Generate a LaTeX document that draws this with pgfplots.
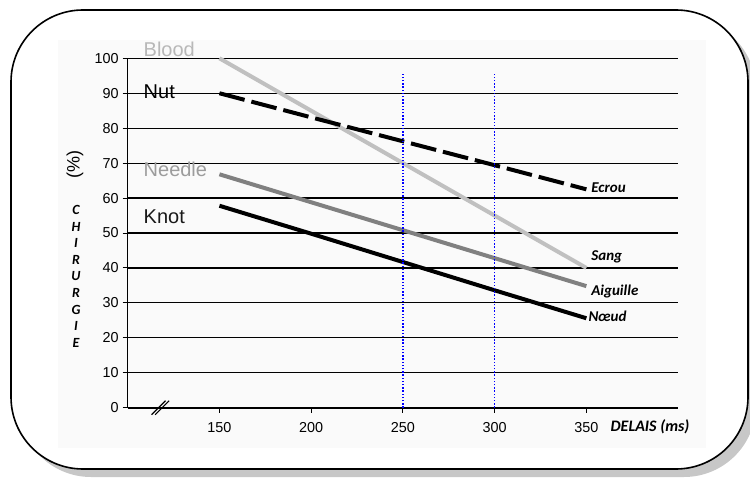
\documentclass[border=0pt]{standalone}
\usepackage{pgfplots}
\pgfplotsset{compat=1.18}
\usepackage{fontspec}
\setmainfont{Liberation Sans}
\newfontfamily\calib{Carlito}
\definecolor{bloodc}{HTML}{C0C0C0}
\definecolor{needlec}{HTML}{808080}
\definecolor{bloodlab}{HTML}{B8B8B8}
\definecolor{needlelab}{HTML}{9C9C9C}
\begin{document}
\begin{tikzpicture}
\useasboundingbox (0,0) rectangle (375pt,238.5pt);
\fill[black!22,rounded corners=36pt] (9.5pt,0pt) rectangle (378pt,229.5pt);
\filldraw[fill=white,draw=black,line width=0.8pt,rounded corners=36pt] (5.5pt,4pt) rectangle (374pt,233.5pt);
\fill[black!2] (29pt,14.5pt) rectangle (353pt,218.5pt);
\begin{axis}[
  at={(63.85pt,34.65pt)}, anchor=south west,
  scale only axis, width=275.2pt, height=174.7pt,
  xmin=100, xmax=400, ymin=0, ymax=100,
  axis lines*=left,
  axis line style={black, line width=0.7pt},
  x axis line style={line width=1.1pt},
  xtick={150,200,250,300,350},
  ytick={0,10,...,100},
  ymajorgrids,
  grid style={black, line width=0.6pt},
  tick align=outside,
  major tick length=2.5pt,
  tick style={black, line width=0.5pt},
  ticklabel style={font=\fontsize{7.2}{8}\selectfont},
  /pgf/number format/assume math mode=true,
  xticklabel style={yshift=-1.5pt},
  yticklabel style={xshift=1.5pt},
  clip=false,
]
\addplot[bloodc, line width=2pt] coordinates {(150,100) (200,85) (250,70) (300,55) (350,40)};
\addplot[black, line width=2pt, dash pattern=on 13pt off 3.5pt] coordinates {(150,90) (200,83.1) (250,76.25) (300,69.4) (350,62.5)};
\addplot[needlec, line width=2pt] coordinates {(150,66.8) (200,58.8) (250,50.8) (300,42.8) (350,34.8)};
\addplot[black, line width=2pt] coordinates {(150,57.8) (200,49.8) (250,41.7) (300,33.6) (350,25.6)};
\addplot[blue, line width=0.7pt, dash pattern=on 0.7pt off 0.9pt] coordinates {(250,0) (250,96)};
\addplot[blue, line width=0.7pt, dash pattern=on 0.7pt off 0.9pt] coordinates {(300,0) (300,96)};

\node[anchor=base west, text=bloodlab, inner sep=0, font=\fontsize{10}{12}\selectfont] at (axis cs:108.5,100.4) {Blood};
\node[anchor=base west, text=black, inner sep=0, font=\fontsize{10}{12}\selectfont] at (axis cs:108.5,88.5) {Nut};
\node[anchor=base west, text=needlelab, inner sep=0, font=\fontsize{10}{12}\selectfont] at (axis cs:108.5,66.1) {Needle};
\node[anchor=base west, text=black!90, inner sep=0, font=\fontsize{10}{12}\selectfont] at (axis cs:108.5,52.6) {Knot};

\node[anchor=west, inner sep=0, font=\calib\bfseries\itshape\fontsize{7.5}{9}\selectfont] at (axis cs:352.5,63) {Ecrou};
\node[anchor=west, inner sep=0, font=\calib\bfseries\itshape\fontsize{7.5}{9}\selectfont] at (axis cs:352.5,43.1) {Sang};
\node[anchor=west, inner sep=0, font=\calib\bfseries\itshape\fontsize{7.5}{9}\selectfont] at (axis cs:352.5,33.4) {Aiguille};
\node[anchor=west, inner sep=0, font=\calib\bfseries\itshape\fontsize{7.5}{9}\selectfont] at (axis cs:351,26.2) {Nœud};

\node[anchor=west, inner sep=0, font=\calib\bfseries\itshape\fontsize{8}{9}\selectfont] at (axis cs:363,-5.5) {DELAIS (ms)};
\node[rotate=90, inner sep=0, font=\fontsize{9}{10}\selectfont] at (axis cs:71.3,69.5) {(\%)};
\node[align=center, inner sep=0, font=\calib\bfseries\itshape\fontsize{7}{8.3}\selectfont] at (axis cs:71.8,37.6) {C\\H\\I\\R\\U\\R\\G\\I\\E};

\draw[black, line width=0.6pt] ([xshift=-3.5pt,yshift=-3.5pt]axis cs:116.8,0) -- ++(7pt,7pt);
\draw[black, line width=0.6pt] ([xshift=-3.5pt,yshift=-3.5pt]axis cs:118.8,0) -- ++(7pt,7pt);
\end{axis}
\end{tikzpicture}
\end{document}
